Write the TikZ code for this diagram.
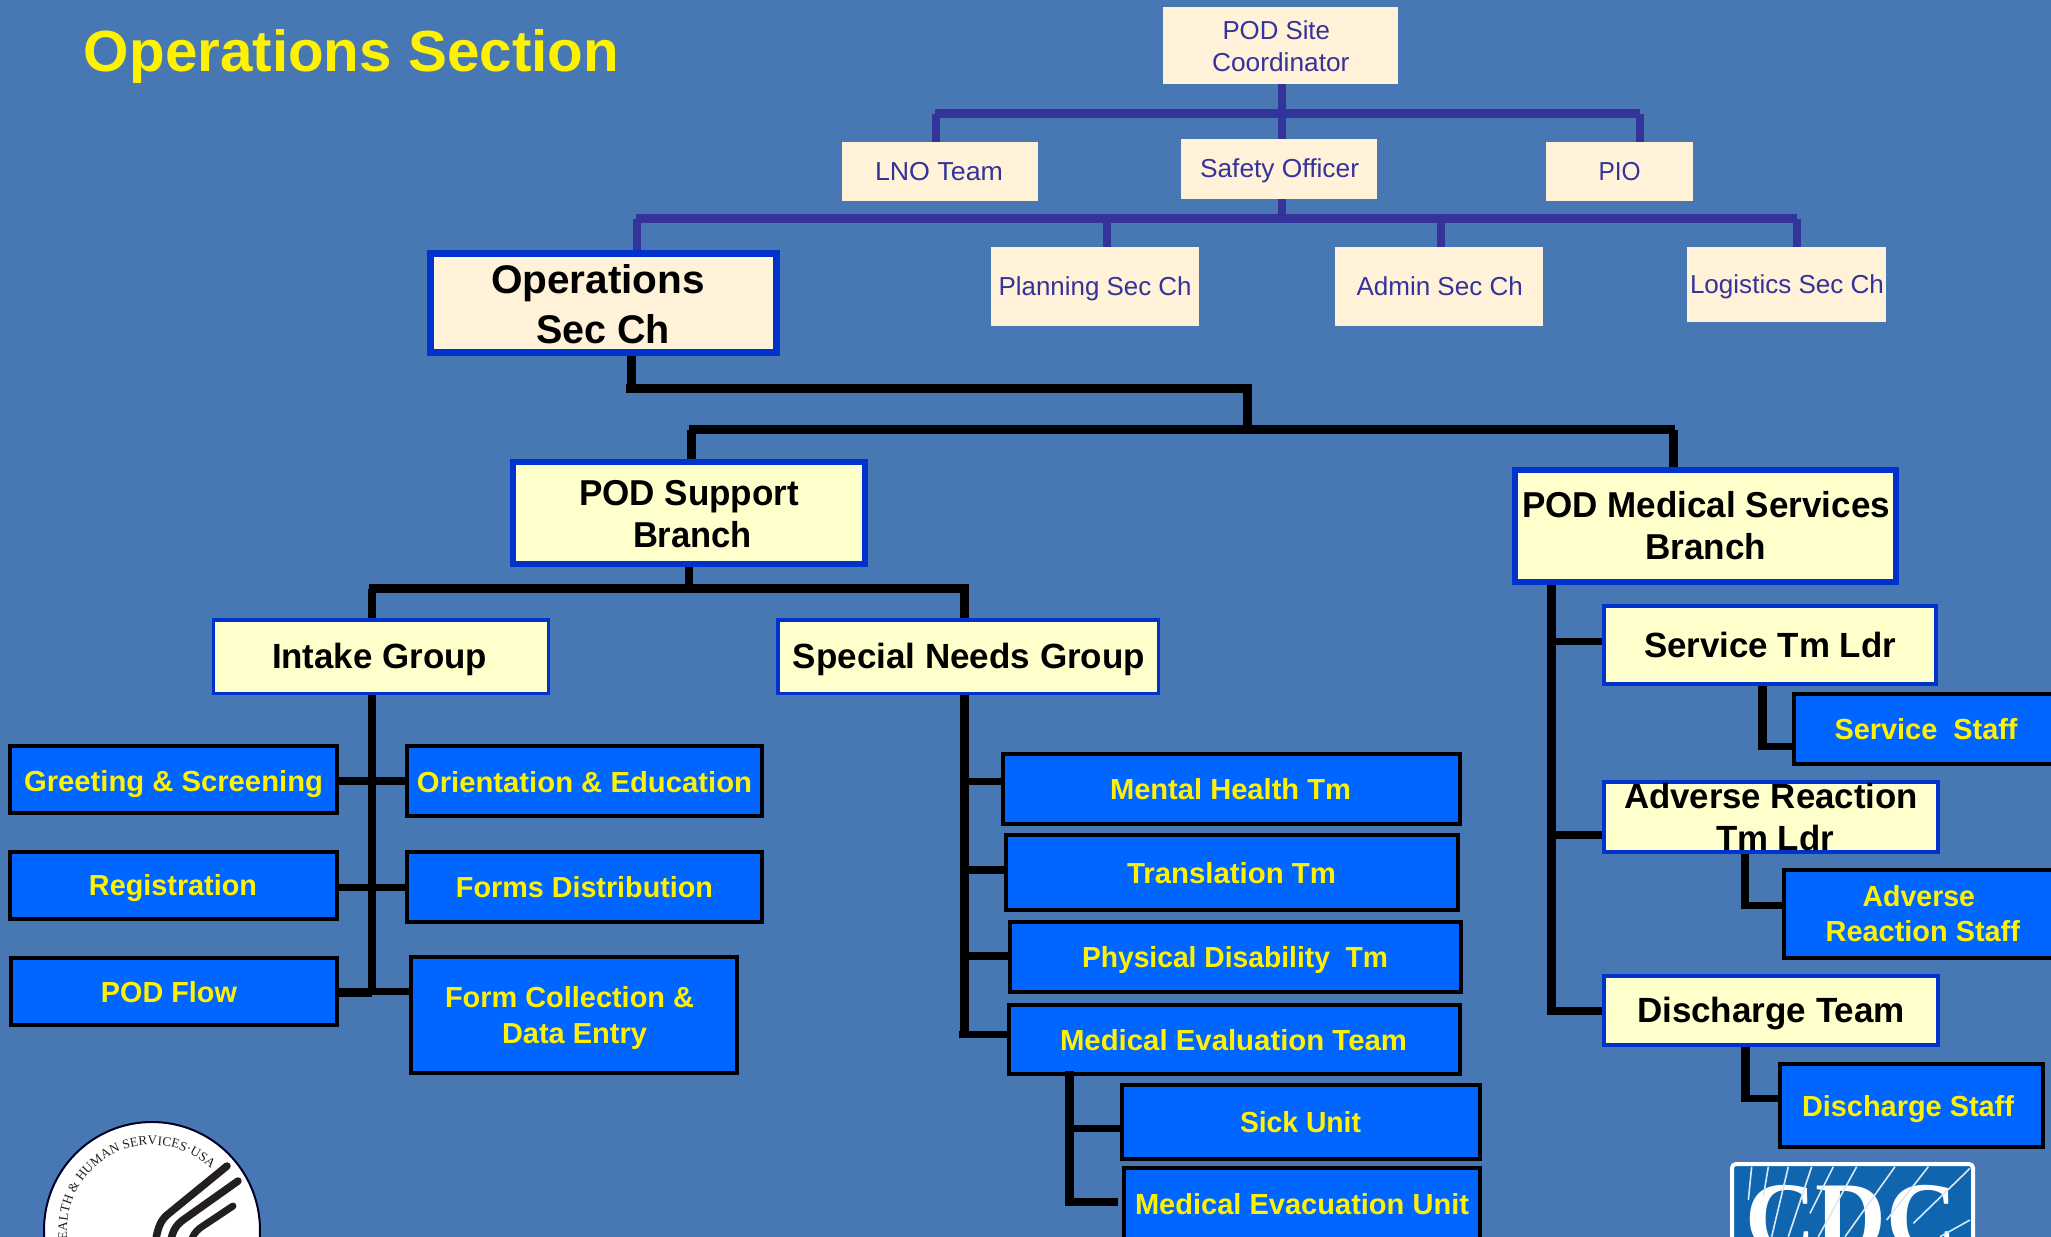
\documentclass[tikz,border=0pt]{standalone}
\usepackage{graphicx}
\usepackage{fontspec}
\setmainfont{Liberation Sans}
\newfontfamily\serifF{Liberation Serif}
\usetikzlibrary{decorations.text}
\definecolor{bgblue}{HTML}{4878B3}
\definecolor{creamA}{HTML}{FFF2D9}
\definecolor{creamB}{HTML}{FFFFCC}
\definecolor{boxblue}{HTML}{0066FF}
\definecolor{edgeblue}{HTML}{0033CC}
\definecolor{navyink}{HTML}{333399}
\definecolor{cdcblue}{HTML}{0F66AE}
\definecolor{wingink}{HTML}{231F20}
\newcommand\bx[7]{%
  \pgfmathsetmacro\bcx{(#3+#5)/2}%
  \pgfmathsetmacro\bcy{(#4+#6)/2}%
  \node[#2,minimum width={(#5-#3)*1.00375pt-\pgflinewidth},minimum height={(#6-#4)*1.00375pt-\pgflinewidth}] (#1) at (\bcx,\bcy) {#7};}
\newcommand\tl[5]{%
  \pgfmathsetmacro\tlw{(#2-#1)*1.00375}%
  \pgfmathsetmacro\tldx{((#1+#2)/2-\bcx)*2.0075}%
  \pgfmathsetmacro\tladj{(#4==29||#4==58)?0.8:0}%
  \pgfmathsetmacro\tldy{(\bcy-#3+\tladj)*1.00375}%
  \pgfmathsetmacro\tlfs{#4*1.00375}%
  \makebox[0pt][c]{\hspace*{\tldx pt}\raisebox{\tldy pt}[0pt][0pt]{\resizebox{\tlw pt}{\height}{\fontsize{\tlfs pt}{\tlfs pt}\selectfont #5}}}\ignorespaces}
\tikzset{
  allbox/.style={draw,rectangle,inner sep=0pt,anchor=center},
  topbox/.style={allbox,draw=none,fill=creamA,text=navyink,outer sep=0pt},
  opsbox/.style={allbox,draw=edgeblue,fill=creamA,text=black,font=\bfseries,line width=7bp},
  branchbox/.style={allbox,draw=edgeblue,fill=creamB,text=black,font=\bfseries,line width=6bp},
  groupbox/.style={allbox,draw=edgeblue,fill=creamB,text=black,font=\bfseries,line width=3.5bp},
  leaderbox/.style={allbox,draw=edgeblue,fill=creamB,text=black,font=\bfseries,line width=4bp},
  unitbox/.style={allbox,draw=black,fill=boxblue,text=yellow,font=\bfseries,line width=4bp},
  navyv/.style={draw=navyink,line width=8bp},
  navyh/.style={draw=navyink,line width=9bp},
  blkv/.style={draw=black,line width=8.6bp},
  blkh/.style={draw=black,line width=8.6bp},
  blkt/.style={draw=black,line width=7.2bp},
  wing/.style={draw=wingink,line cap=round,line width=8bp},
  rayline/.style={draw=white!85!cdcblue,line width=1.6bp}
}
\begin{document}
\begin{tikzpicture}[x=1bp,y=-1bp]
\useasboundingbox (0,0) rectangle (2051,1236);
\clip (-5,-5) rectangle (2056,1245);
\fill[bgblue] (-5,-5) rectangle (2056,1245);

% title
\bx{title}{inner sep=0pt,text=yellow,font=\bfseries}{84}{10}{619}{90}{\tl{84}{619}{72}{58}{Operations Section}}

% command staff
\bx{site}{topbox}{1163}{7}{1398}{84}{\tl{1222.5}{1330}{39}{26}{POD Site}\tl{1212}{1349.5}{71}{26}{Coordinator}}
\bx{lno}{topbox}{842}{142}{1038}{201}{\tl{875}{1003}{180.5}{26}{LNO Team}}
\bx{safety}{topbox}{1181}{139}{1377}{199}{\tl{1200}{1359}{177.5}{26}{Safety Officer}}
\bx{pio}{topbox}{1546}{142}{1693}{201}{\tl{1598.6}{1640.7}{180.5}{26}{PIO}}
\bx{plan}{topbox}{991}{247}{1199}{326}{\tl{998.6}{1191.6}{295.7}{26}{Planning Sec Ch}}
\bx{admin}{topbox}{1335}{247}{1543}{326}{\tl{1356.5}{1522.8}{295.7}{26}{Admin Sec Ch}}
\bx{logi}{topbox}{1687}{247}{1886}{322}{\tl{1690}{1884}{293}{26}{Logistics Sec Ch}}
\bx{ops}{opsbox}{427}{250}{780}{356}{\tl{491}{705}{293}{40}{Operations}\tl{536}{670}{343}{40}{Sec Ch}}

% branches
\bx{supp}{branchbox}{510}{459}{868}{567}{\tl{579}{799}{505}{36}{POD Support}\tl{633}{752}{547}{36}{Branch}}
\bx{med}{branchbox}{1512}{467}{1899}{585}{\tl{1522}{1890}{517}{36}{POD Medical Services}\tl{1645}{1766}{559}{36}{Branch}}

% groups
\bx{intake}{groupbox}{212}{618}{550}{695}{\tl{272}{487}{668}{35}{Intake Group}}
\bx{special}{groupbox}{776}{618}{1160}{695}{\tl{793}{1145}{668}{35}{Special Needs Group}}

% intake units
\bx{greet}{unitbox}{8.5}{744}{339}{815}{\tl{24}{323}{792}{29}{Greeting \& Screening}}
\bx{reg}{unitbox}{8.5}{850}{339}{921}{\tl{89}{257}{896}{29}{Registration}}
\bx{flow}{unitbox}{9}{956}{339}{1027}{\tl{101}{237}{1003}{29}{POD Flow}}
\bx{orient}{unitbox}{405}{744}{764}{818}{\tl{417}{752}{793}{29}{Orientation \& Education}}
\bx{forms}{unitbox}{405}{850}{764}{924}{\tl{456}{713}{898}{29}{Forms Distribution}}
\bx{collect}{unitbox}{409}{955}{739}{1075}{\tl{445}{694}{1008}{29}{Form Collection \&}\tl{502}{647}{1044}{29}{Data Entry}}

% special needs units
\bx{mental}{unitbox}{1001}{752}{1461.7}{826}{\tl{1110}{1351}{800}{29}{Mental Health Tm}}
\bx{transl}{unitbox}{1004}{833}{1460}{912}{\tl{1127}{1336}{884}{29}{Translation Tm}}
\bx{phys}{unitbox}{1008}{920}{1463}{994}{\tl{1082}{1388}{968}{29}{Physical Disability\ \ Tm}}
\bx{medev}{unitbox}{1007}{1003}{1462}{1076}{\tl{1060}{1407}{1051}{29}{Medical Evaluation Team}}
\bx{sick}{unitbox}{1120}{1083}{1482}{1161}{\tl{1240}{1361}{1133}{29}{Sick Unit}}
\bx{evac}{unitbox}{1122}{1166}{1482}{1260}{\tl{1135}{1469}{1215}{29}{Medical Evacuation Unit}}

% medical side
\bx{serv}{leaderbox}{1602}{604}{1938}{686}{\tl{1644}{1896}{657}{35}{Service Tm Ldr}}
\bx{servst}{unitbox}{1792}{692}{2070}{766}{\tl{1834.5}{2017.6}{740}{29}{Service\ \ Staff}}
\bx{adv}{leaderbox}{1602}{780}{1940}{854}{\tl{1624}{1918}{808}{35}{Adverse Reaction}\tl{1716}{1834}{850}{35}{Tm Ldr}}
\bx{advst}{unitbox}{1782}{868}{2070}{960}{\tl{1862.6}{1975}{907}{29}{Adverse}\tl{1825.7}{2020}{942}{29}{Reaction Staff}}
\bx{disch}{leaderbox}{1602}{974}{1940}{1047}{\tl{1637}{1905}{1022}{35}{Discharge Team}}
\bx{dischst}{unitbox}{1778}{1062}{2045}{1149}{\tl{1802}{2014}{1117}{29}{Discharge Staff}}

% navy connectors
\coordinate (n1) at (1282,113.5);
\coordinate (n1l) at (935,113.5);
\coordinate (n1r) at (1639.5,113.5);
\coordinate (n2) at (1282,218.5);
\coordinate (n2l) at (636,218.5);
\coordinate (n2r) at (1796.5,218.5);
\draw[navyv] (site.south -| n1) -- (safety.north -| n1);
\draw[navyh] (n1l) -- (n1r);
\draw[navyv] (935.5,113.5) -- (lno.north -| 935.5,0);
\draw[navyv] (1639.5,113.5) -- (pio.north -| 1639.5,0);
\draw[navyv] (safety.south -| n2) -- (n2);
\draw[navyh] (n2l) -- (n2r);
\draw[navyv] (636.5,218.5) -- (ops.north -| 636.5,0);
\draw[navyv] (1106.5,218.5) -- (plan.north -| 1106.5,0);
\draw[navyv] (1441,218.5) -- (admin.north -| 1441,0);
\draw[navyv] (1797,218.5) -- (logi.north -| 1797,0);

% black connectors: staff level
\coordinate (k1) at (626,388.7);
\coordinate (k2) at (1248,388.7);
\coordinate (k3) at (689,429.5);
\coordinate (k4) at (1675,429.5);
\draw[blkv] (ops.south -| 631.5,0) -- (631.5,388.7);
\draw[blkh] (k1) -- (k2);
\draw[blkv] (1247.7,384) -- (1247.7,429.5);
\draw[blkh] (k3) -- (k4);
\draw[blkv] (691.5,429.5) -- (supp.north -| 691.5,0);
\draw[blkv] (1673.5,429.5) -- (med.north -| 1673.5,0);

% support branch
\coordinate (s1) at (369,588.7);
\coordinate (s2) at (969,588.7);
\draw[blkv] (supp.south -| 689,0) -- (689,588.7);
\draw[blkh] (s1) -- (s2);
\draw[blkv] (372,588.7) -- (intake.north -| 372,0);
\draw[blkv] (964.5,588.7) -- (special.north -| 964.5,0);

% intake trunk
\draw[blkv] (intake.south -| 372,0) -- (372,992);
\draw[blkt] (greet.east |- 0,781) -- (orient.west |- 0,781);
\draw[blkt] (reg.east |- 0,887.5) -- (forms.west |- 0,887.5);
\draw[blkh] (flow.east |- 0,992.5) -- (372,992.5);
\draw[blkt] (372,991.5) -- (collect.west |- 0,991.5);

% special trunk
\draw[blkv] (special.south -| 964.5,0) -- (964.5,1037);
\draw[blkt] (964.5,781.5) -- (mental.west |- 0,781.5);
\draw[blkt] (964.5,870) -- (transl.west |- 0,870);
\draw[blkv] (964.5,956) -- (phys.west |- 0,956);
\draw[blkt] (959,1034.5) -- (medev.west |- 0,1034.5);
\draw[blkv] (1069.5,1071) -- (1069.5,1205.7);
\draw[blkt] (1069.5,1128.5) -- (sick.west |- 0,1128.5);
\coordinate (evacstub) at (1118,1202);
\draw[blkt] (1065,1202) -- (evacstub);

% medical trunk
\draw[blkv] (med.south -| 1551.5,0) -- (1551.5,1015);
\draw[blkt] (1551.5,641.5) -- (serv.west |- 0,641.5);
\draw[blkv] (1551.5,835) -- (adv.west |- 0,835);
\draw[blkv] (1551.5,1011) -- (disch.west |- 0,1011);
\draw[blkv] (serv.south -| 1762.5,0) -- (1762.5,750);
\draw[blkt] (1762.5,746.5) -- (servst.west |- 0,746.5);
\draw[blkv] (adv.south -| 1745,0) -- (1745,909);
\draw[blkt] (1745,905.5) -- (advst.west |- 0,905.5);
\draw[blkv] (disch.south -| 1745.5,0) -- (1745.5,1102);
\draw[blkt] (1745.5,1098.5) -- (dischst.west |- 0,1098.5);

% HHS seal
\fill[white,draw=black!85!blue,line width=2bp] (152,1230) circle[radius=108];
\begin{scope}[shift={(152,1230)},x=1bp,y=1bp]
  \path[decorate,decoration={text along path,text align=fit to path,
     text={|\fontsize{13.2pt}{13.2pt}\serifF\color{wingink}|HEALTH {\&} HUMAN SERVICES{\textperiodcentered}USA}}]
     (193:85) arc[start angle=193,end angle=46,radius=85];
\end{scope}
\draw[wing,line width=7.5bp] (227,1166) -- (167,1215) .. controls (160,1221) and (157,1230) .. (155,1245);
\draw[wing,line width=7.5bp] (238,1181) -- (183,1220) .. controls (175,1226) and (172,1232) .. (170,1245);
\draw[wing,line width=7bp] (233,1206) -- (200,1228) .. controls (195,1232) and (192,1236) .. (190,1245);

% CDC logo
\bx{cdc}{allbox,draw=white,fill=cdcblue,text=white,font=\serifF\bfseries,line width=4bp,rounded corners=4bp}{1730}{1162}{1975}{1320}{\tl{1745}{1957}{1251}{100}{CDC}}
\foreach \xa/\ya/\xb/\yb in {
  155/110/145/210, 205/110/190/200, 265/110/215/320, 335/110/265/320,
  400/110/330/250, 470/110/355/320, 585/110/435/320, 685/110/560/270,
  810/115/640/280, 810/270/720/320}{
  \draw[rayline] ({1700+\xa/3},{1130+\ya/3}) -- ({1700+\xb/3},{1130+\yb/3});
}
\end{tikzpicture}
\end{document}
